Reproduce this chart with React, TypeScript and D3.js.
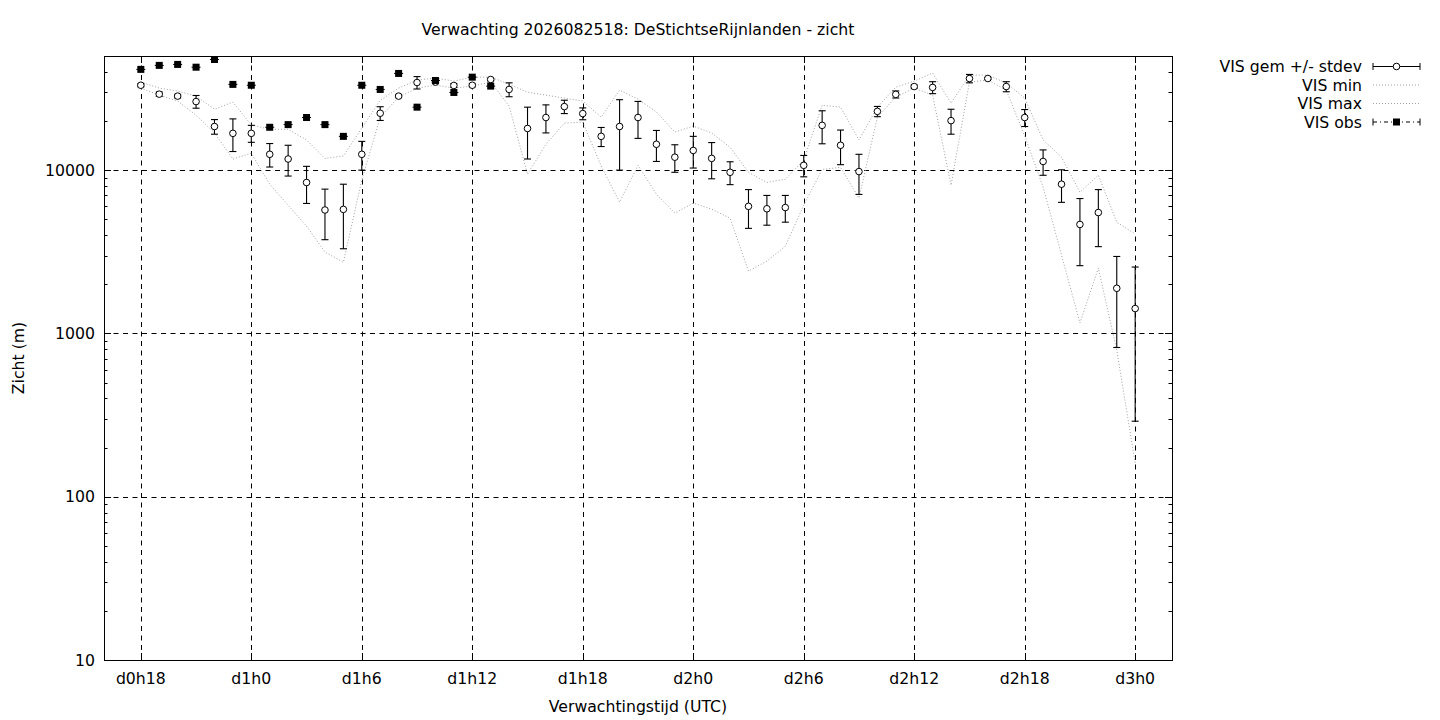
import React from 'react';
import * as d3 from 'd3';

const hours = [18, 19, 20, 21, 22, 23, 24, 25, 26, 27, 28, 29, 30, 31, 32, 33, 34, 35, 36, 37, 38, 39, 40, 41, 42, 43, 44, 45, 46, 47, 48, 49, 50, 51, 52, 53, 54, 55, 56, 57, 58, 59, 60, 61, 62, 63, 64, 65, 66, 67, 68, 69, 70, 71, 72];

const visMean = [33100, 29200, 28400, 26300, 18500, 16800, 16800, 12500, 11700, 8400, 5700, 5750, 12500, 22300, 28400, 34400, 34600, 33000, 33100, 35900, 31200, 18000, 21000, 24500, 22200, 16100, 18500, 21000, 14400, 12000, 13200, 11800, 9700, 6000, 5800, 5900, 10700, 18800, 14200, 9800, 22900, 29100, 32500, 32100, 20100, 36400, 36400, 32500, 21000, 11300, 8200, 4650, 5500, 1890, 1420];

const visStdev = [700, 900, 700, 2350, 1900, 3800, 2000, 2050, 2500, 2150, 1950, 2450, 2500, 2150, 600, 3000, 700, 900, 700, 600, 3050, 6300, 4100, 2300, 1850, 2150, 8500, 5350, 3100, 2300, 2900, 2950, 1550, 1600, 1200, 1100, 1600, 4300, 3400, 2700, 1650, 1450, 700, 2700, 3500, 2150, 500, 2300, 2500, 2000, 1850, 2050, 2100, 1070, 1130];

const visMin = [31800, 28800, 26500, 21700, 16900, 11700, 12700, 8200, 6100, 4540, 3150, 2730, 8690, 21100, 28000, 31800, 33200, 31800, 32700, 34600, 24700, 9450, 14400, 19400, 19700, 10600, 6370, 10700, 7130, 5450, 6280, 5770, 5080, 2410, 2770, 3420, 6100, 10100, 10400, 6740, 21100, 28000, 31800, 28800, 8090, 34600, 35600, 30900, 16200, 7870, 3020, 1160, 2510, 790, 161];

const visMax = [34600, 31800, 30500, 28400, 23600, 26100, 18900, 17800, 17800, 15300, 11800, 12200, 18100, 26800, 31800, 35600, 36600, 35100, 37100, 37100, 33600, 30000, 28800, 27600, 26500, 21100, 30900, 27200, 22700, 17100, 18600, 16900, 13800, 9700, 8400, 8800, 11500, 25000, 24300, 15300, 24300, 32200, 35100, 39300, 25700, 38200, 38200, 34100, 27600, 15300, 12000, 7330, 9320, 4800, 4060];

const obsHours = [18, 19, 20, 21, 22, 23, 24, 25, 26, 27, 28, 29, 30, 31, 32, 33, 34, 35, 36, 37];
const visObs = [41400, 43800, 44400, 42700, 47600, 33500, 33100, 18300, 19000, 21000, 19000, 16100, 33100, 31200, 39100, 24300, 35400, 29900, 37100, 32700];

const xTickHours = [18, 24, 30, 36, 42, 48, 54, 60, 66, 72];
const xTickLabels = ['d0h18', 'd1h0', 'd1h6', 'd1h12', 'd1h18', 'd2h0', 'd2h6', 'd2h12', 'd2h18', 'd3h0'];
const yTickValues = [10, 100, 1000, 10000];
const yTickLabels = ['10', '100', '1000', '10000'];

const titleText = 'Verwachting 2026082518: DeStichtseRijnlanden - zicht';
const xAxisLabel = 'Verwachtingstijd (UTC)';
const yAxisLabel = 'Zicht (m)';
const legendLabels = ['VIS gem +/- stdev', 'VIS min', 'VIS max', 'VIS obs'];

const W = 1440;
const H = 720;
const L = 104;
const R = 1172;
const T = 56;
const B = 660;
const FONT = "'DejaVu Sans', Verdana, sans-serif";
const FS = 15.7;

export default function App() {
  const x = d3.scaleLinear().domain([16, 74]).range([L, R]);
  const y = d3.scaleLog().domain([10, 50000]).range([B, T]);

  const minorVals: number[] = [];
  [10, 100, 1000, 10000].forEach((dec) => {
    for (let k = 2; k <= 9; k++) {
      const v = dec * k;
      if (v <= 50000) minorVals.push(v);
    }
  });

  const lineGen = d3
    .line<number>()
    .x((_, i) => x(hours[i]))
    .y((d) => y(d));

  const gray = '#a0a0a0';
  const cap = 3.5;

  const legendRows = [66.5, 85, 103.5, 122];
  const lx0 = 1373;
  const lx1 = 1420;
  const lxm = (lx0 + lx1) / 2;

  return (
    <div style={{ position: 'fixed', left: 0, top: 0 }}>
      <svg width={W} height={H} style={{ display: 'block', background: '#fff' }} fontFamily={FONT}>
        <rect x={0} y={0} width={W} height={H} fill="#fff" />
        {/* grid */}
        <g stroke="#000" strokeWidth={1} strokeDasharray="5,4.5">
          {yTickValues
            .filter((v) => v > 10)
            .map((v) => (
              <line key={'gy' + v} x1={L} x2={R} y1={Math.round(y(v)) + 0.5} y2={Math.round(y(v)) + 0.5} />
            ))}
          {xTickHours.map((h) => (
            <line key={'gx' + h} x1={Math.round(x(h)) + 0.5} x2={Math.round(x(h)) + 0.5} y1={T} y2={B} />
          ))}
        </g>
        {/* ticks */}
        <g stroke="#000" strokeWidth={1}>
          {yTickValues.map((v) => {
            const yy = Math.round(y(v)) + 0.5;
            return (
              <g key={'ty' + v}>
                <line x1={L} x2={L + 7} y1={yy} y2={yy} />
                <line x1={R} x2={R - 7} y1={yy} y2={yy} />
              </g>
            );
          })}
          {minorVals.map((v) => {
            const yy = Math.round(y(v)) + 0.5;
            return (
              <g key={'tm' + v}>
                <line x1={L} x2={L + 3.5} y1={yy} y2={yy} />
                <line x1={R} x2={R - 3.5} y1={yy} y2={yy} />
              </g>
            );
          })}
          {xTickHours.map((h) => {
            const xx = Math.round(x(h)) + 0.5;
            return (
              <g key={'tx' + h}>
                <line x1={xx} x2={xx} y1={B} y2={B - 7} />
                <line x1={xx} x2={xx} y1={T} y2={T + 7} />
              </g>
            );
          })}
        </g>
        {/* min / max lines */}
        <path d={lineGen(visMin) || ''} fill="none" stroke={gray} strokeWidth={1} strokeDasharray="1,2" />
        <path d={lineGen(visMax) || ''} fill="none" stroke={gray} strokeWidth={1} strokeDasharray="1,2" />
        {/* error bars */}
        <g stroke="#000" strokeWidth={1.1}>
          {hours.map((h, i) => {
            const xx = x(h);
            const hi = y(visMean[i] + visStdev[i]);
            const lo = y(Math.max(visMean[i] - visStdev[i], 10));
            return (
              <g key={'eb' + h}>
                <line x1={xx} x2={xx} y1={hi} y2={lo} />
                <line x1={xx - cap} x2={xx + cap} y1={hi} y2={hi} />
                <line x1={xx - cap} x2={xx + cap} y1={lo} y2={lo} />
              </g>
            );
          })}
        </g>
        <g stroke="#000" strokeWidth={1} fill="#fff">
          {hours.map((h, i) => (
            <circle key={'c' + h} cx={x(h)} cy={y(visMean[i])} r={3.3} />
          ))}
        </g>
        {/* observations */}
        <g>
          {obsHours.map((h, i) => {
            const xx = x(h);
            const yy = y(visObs[i]);
            return (
              <g key={'o' + h}>
                <line x1={xx - 4.5} x2={xx + 4.5} y1={yy} y2={yy} stroke="#000" strokeWidth={1} />
                <rect x={xx - 3.5} y={yy - 3.5} width={7} height={7} fill="#000" />
              </g>
            );
          })}
        </g>
        {/* border */}
        <rect x={L + 0.5} y={T + 0.5} width={R - L} height={B - T} fill="none" stroke="#000" strokeWidth={1} />
        {/* tick labels */}
        <g fontSize={FS} fill="#000">
          {yTickValues.map((v, i) => (
            <text key={'yl' + v} x={95} y={y(v)} dy="0.36em" textAnchor="end">
              {yTickLabels[i]}
            </text>
          ))}
          {xTickHours.map((h, i) => (
            <text key={'xl' + h} x={x(h)} y={684} textAnchor="middle">
              {xTickLabels[i]}
            </text>
          ))}
          <text x={(L + R) / 2} y={35} textAnchor="middle">
            {titleText}
          </text>
          <text x={(L + R) / 2} y={712} textAnchor="middle">
            {xAxisLabel}
          </text>
          <text transform={`translate(24, ${(T + B) / 2}) rotate(-90)`} textAnchor="middle">
            {yAxisLabel}
          </text>
        </g>
        {/* legend */}
        <g fontSize={FS} fill="#000">
          {legendLabels.map((lab, i) => (
            <text key={'lg' + i} x={1362} y={legendRows[i]} dy="0.36em" textAnchor="end">
              {lab}
            </text>
          ))}
          <g stroke="#000" strokeWidth={1}>
            <line x1={lx0} x2={lx1} y1={legendRows[0]} y2={legendRows[0]} />
            <line x1={lx0} x2={lx0} y1={legendRows[0] - cap} y2={legendRows[0] + cap} />
            <line x1={lx1} x2={lx1} y1={legendRows[0] - cap} y2={legendRows[0] + cap} />
            <circle cx={lxm} cy={legendRows[0]} r={3.3} fill="#fff" />
          </g>
          <line x1={lx0} x2={lx1} y1={legendRows[1]} y2={legendRows[1]} stroke={gray} strokeDasharray="1,2" />
          <line x1={lx0} x2={lx1} y1={legendRows[2]} y2={legendRows[2]} stroke={gray} strokeDasharray="1,2" />
          <g stroke="#000" strokeWidth={1}>
            <line x1={lx0} x2={lx1} y1={legendRows[3]} y2={legendRows[3]} strokeDasharray="4,3,1,3" />
            <line x1={lx0} x2={lx0} y1={legendRows[3] - cap} y2={legendRows[3] + cap} />
            <line x1={lx1} x2={lx1} y1={legendRows[3] - cap} y2={legendRows[3] + cap} />
          </g>
          <rect x={lxm - 3.5} y={legendRows[3] - 3.5} width={7} height={7} fill="#000" />
        </g>
      </svg>
    </div>
  );
}
